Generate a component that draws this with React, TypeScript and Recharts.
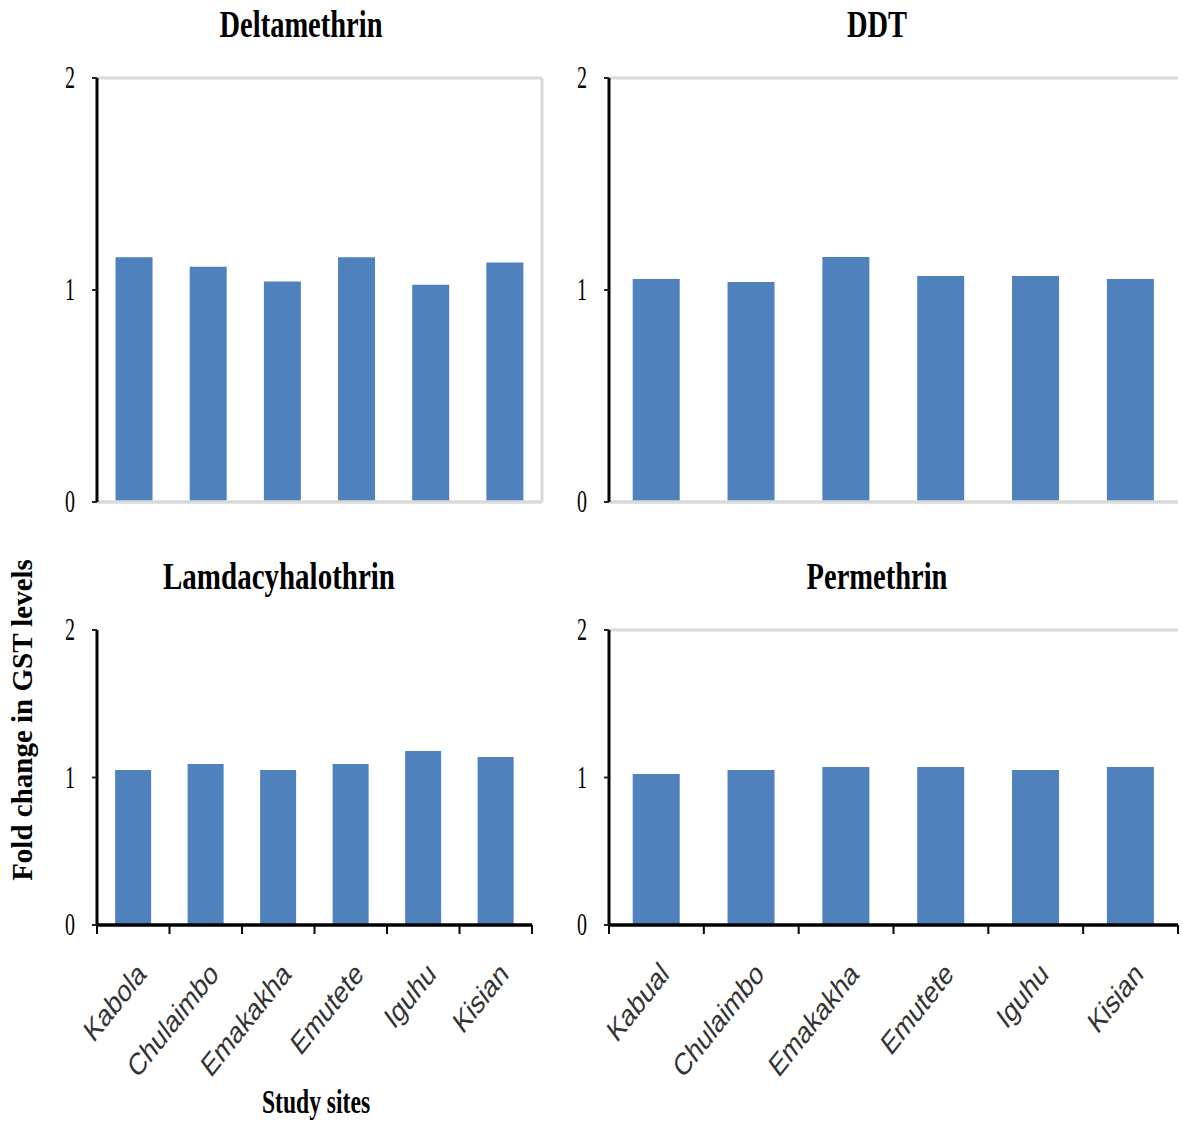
import React from 'react';
import { BarChart, Bar, XAxis, YAxis, ReferenceLine } from 'recharts';

const sitesLeft = ['Kabola', 'Chulaimbo', 'Emakakha', 'Emutete', 'Iguhu', 'Kisian'];
const sitesRight = ['Kabual', 'Chulaimbo', 'Emakakha', 'Emutete', 'Iguhu', 'Kisian'];

const deltamethrin = [1.155, 1.11, 1.04, 1.155, 1.025, 1.13];
const ddt = [1.052, 1.038, 1.156, 1.066, 1.066, 1.052];
const lamdacyhalothrin = [1.051, 1.092, 1.051, 1.092, 1.18, 1.139];
const permethrin = [1.024, 1.051, 1.071, 1.071, 1.051, 1.071];

const yTicks = [0, 1, 2];

const titles = ['Deltamethrin', 'DDT', 'Lamdacyhalothrin', 'Permethrin'];
const yLabel = 'Fold change in GST levels';
const xLabel = 'Study sites';

const BAR = '#4f81bd';
const GRAY = '#d9d9d9';

const toRows = (sites: string[], vals: number[]) => sites.map((s, i) => ({ site: s, value: vals[i] }));

const YTick = (props: any) => {
  const { x, y, payload } = props;
  return (
    <text
      transform={`translate(${x - 22},${y}) scale(0.95,1.5)`}
      textAnchor="middle"
      dominantBaseline="central"
      fontFamily="'Liberation Serif', 'Times New Roman', serif"
      fontSize={21}
      fill="#000"
    >
      {payload.value}
    </text>
  );
};

const makeXTick = (band: number, count: number) => (props: any) => {
  const { x, y, payload, index } = props;
  return (
    <g>
      <line x1={x - band / 2} x2={x - band / 2} y1={y} y2={y + 9} stroke="#000" strokeWidth={2} />
      {index === count - 1 && (
        <line x1={x + band / 2} x2={x + band / 2} y1={y} y2={y + 9} stroke="#000" strokeWidth={2} />
      )}
      <text
        transform={`translate(${x + 14},${y + 51}) scale(1,1.3) rotate(-44)`}
        textAnchor="end"
        fontFamily="'Liberation Sans', Arial, sans-serif"
        fontSize={24}
        fill="#333"
      >
        {payload.value}
      </text>
    </g>
  );
};

type PanelProps = {
  left: number;
  top: number;
  width: number;
  height: number;
  margin: { top: number; right: number; bottom: number; left: number };
  yAxisWidth: number;
  data: { site: string; value: number }[];
  bottom: boolean;
  grayTop: boolean;
  grayRight: boolean;
};

function Panel(p: PanelProps) {
  const rightW = p.grayRight ? 1 : 0;
  const xH = p.bottom ? 150 : 1;
  const margin = {
    top: p.margin.top,
    left: p.margin.left,
    right: p.margin.right - rightW,
    bottom: p.margin.bottom - (p.bottom ? 0 : 1),
  };
  const plotW = p.width - p.margin.left - p.margin.right - p.yAxisWidth;
  const band = plotW / p.data.length;
  return (
    <div style={{ position: 'absolute', left: p.left, top: p.top }}>
      <BarChart width={p.width} height={p.height} data={p.data} margin={margin} barCategoryGap="25%">
        {p.grayTop && <ReferenceLine y={2} stroke={GRAY} strokeWidth={3} />}
        {p.bottom ? (
          <XAxis
            dataKey="site"
            interval={0}
            height={xH}
            axisLine={{ stroke: '#000', strokeWidth: 3.5 }}
            tickLine={false}
            tickSize={0}
            tickMargin={0}
            tick={makeXTick(band, p.data.length)}
          />
        ) : (
          <XAxis
            dataKey="site"
            height={xH}
            interval={0}
            axisLine={{ stroke: GRAY, strokeWidth: 3 }}
            tickLine={false}
            tick={false}
          />
        )}
        {!p.bottom && <ReferenceLine y={0} stroke={GRAY} strokeWidth={3} />}
        <YAxis
          domain={[0, 2]}
          ticks={yTicks}
          width={p.yAxisWidth}
          axisLine={{ stroke: '#000', strokeWidth: 3 }}
          tickLine={{ stroke: '#222', strokeWidth: 2 }}
          tickSize={5}
          tickMargin={0}
          tick={<YTick />}
        />
        {p.grayRight && (
          <YAxis
            yAxisId="r"
            orientation="right"
            domain={[0, 2]}
            width={rightW}
            axisLine={{ stroke: GRAY, strokeWidth: 3 }}
            tickLine={false}
            tick={false}
          />
        )}
        <Bar dataKey="value" fill={BAR} isAnimationActive={false} />
      </BarChart>
    </div>
  );
}

const serifBold = "'Liberation Serif', 'Times New Roman', serif";

export default function App() {
  return (
    <div style={{ position: 'absolute', left: 0, top: 0, width: 1183, height: 1121, background: '#fff', overflow: 'hidden' }}>
      <Panel
        left={0}
        top={0}
        width={560}
        height={540}
        margin={{ top: 78, right: 18, bottom: 38, left: 0 }}
        yAxisWidth={97}
        data={toRows(sitesLeft, deltamethrin)}
        bottom={false}
        grayTop={true}
        grayRight={true}
      />
      <Panel
        left={560}
        top={0}
        width={623}
        height={540}
        margin={{ top: 78, right: 5, bottom: 38, left: 0 }}
        yAxisWidth={49}
        data={toRows(sitesRight, ddt)}
        bottom={false}
        grayTop={true}
        grayRight={false}
      />
      <Panel
        left={0}
        top={560}
        width={560}
        height={561}
        margin={{ top: 70, right: 28, bottom: 46, left: 0 }}
        yAxisWidth={97}
        data={toRows(sitesLeft, lamdacyhalothrin)}
        bottom={true}
        grayTop={false}
        grayRight={false}
      />
      <Panel
        left={560}
        top={560}
        width={623}
        height={561}
        margin={{ top: 70, right: 5, bottom: 46, left: 0 }}
        yAxisWidth={49}
        data={toRows(sitesRight, permethrin)}
        bottom={true}
        grayTop={true}
        grayRight={false}
      />
      <svg
        width={1183}
        height={1121}
        style={{ position: 'absolute', left: 0, top: 0, pointerEvents: 'none' }}
      >
        <g fontFamily={serifBold} fontWeight="bold" fill="#000">
          <text transform="translate(301,37) scale(1,1.33)" textAnchor="middle" fontSize={28.5}>{titles[0]}</text>
          <text transform="translate(877,37) scale(1,1.33)" textAnchor="middle" fontSize={28.5}>{titles[1]}</text>
          <text transform="translate(279,589) scale(1,1.33)" textAnchor="middle" fontSize={29}>{titles[2]}</text>
          <text transform="translate(877,589) scale(1,1.33)" textAnchor="middle" fontSize={28.5}>{titles[3]}</text>
          <text transform="translate(32,720) rotate(-90)" textAnchor="middle" fontSize={29}>{yLabel}</text>
          <text transform="translate(316,1113) scale(1,1.4)" textAnchor="middle" fontSize={23.6}>{xLabel}</text>
        </g>
      </svg>
    </div>
  );
}
